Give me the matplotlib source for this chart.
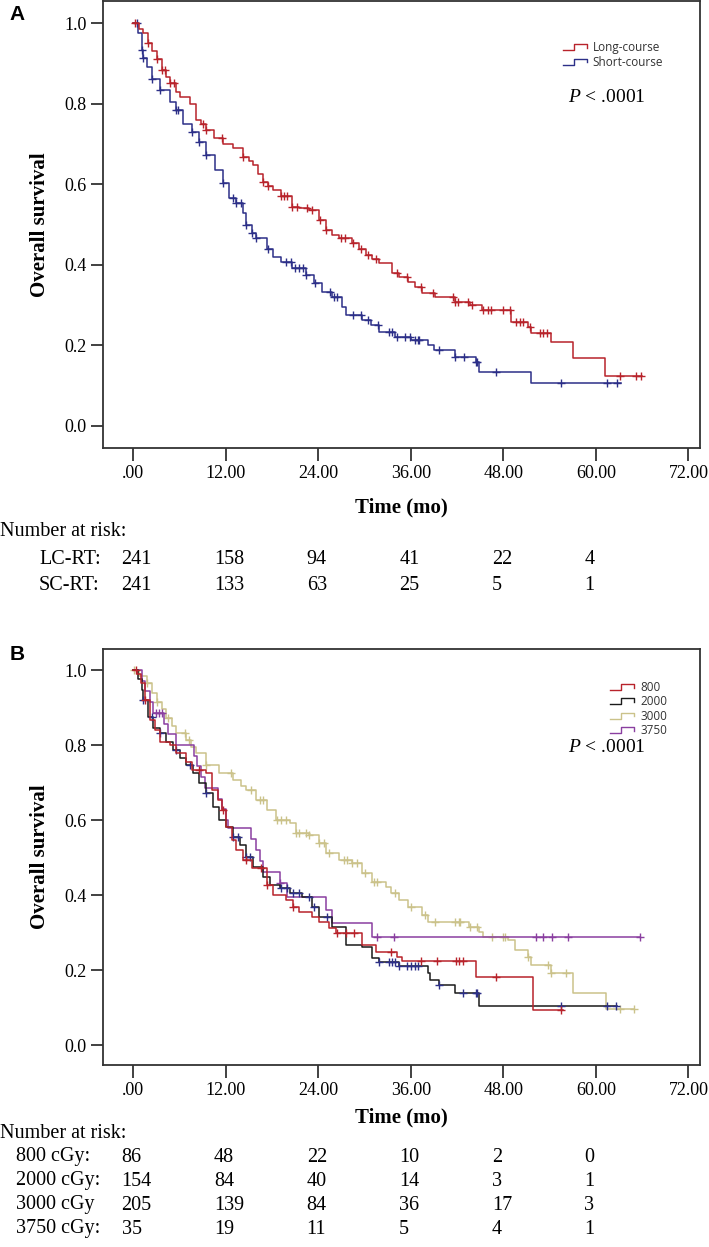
import numpy as np
import matplotlib
matplotlib.use("Agg")
import matplotlib.pyplot as plt
import matplotlib.transforms as mtransforms
from matplotlib.legend_handler import HandlerBase
from matplotlib.lines import Line2D

# ---- panel A: long-course vs short-course ----
lc_times = [0, 0.8, 1.3, 1.9, 2.5, 3.1, 3.7, 4.3, 4.8, 5.5, 6.1, 7.4, 8.2, 8.8, 9.5,
            10.5, 11.6, 12.9, 14.2, 15.0, 15.5, 16.2, 16.8, 17.5, 18.1, 19.2, 20.6,
            21.5, 22.8, 24.1, 25.0, 25.8, 26.7, 28.4, 29.3, 30.2, 31.0, 31.9, 33.6,
            34.5, 35.7, 36.5, 37.4, 39.2, 41.8, 43.7, 45.2, 49.0, 51.2, 51.6, 54.2,
            57.0, 61.2]
lc_surv = [1.0, 0.985, 0.975, 0.95, 0.93, 0.91, 0.883, 0.865, 0.85, 0.83, 0.816, 0.80,
           0.76, 0.75, 0.735, 0.715, 0.70, 0.69, 0.668, 0.658, 0.648, 0.625, 0.606,
           0.595, 0.586, 0.57, 0.543, 0.54, 0.536, 0.511, 0.487, 0.475, 0.466, 0.454,
           0.44, 0.424, 0.414, 0.404, 0.38, 0.37, 0.357, 0.345, 0.33, 0.32, 0.308,
           0.30, 0.288, 0.258, 0.246, 0.23, 0.208, 0.169, 0.124]
lc_end = 66.0
lc_cens = [0.3, 1.9, 3.1, 3.7, 4.2, 4.8, 5.3, 9.0, 9.5, 11.5, 14.2, 16.8, 17.5, 19.2,
           19.6, 20.0, 20.6, 21.2, 22.6, 23.2, 24.2, 25.0, 27.0, 27.5, 28.5, 29.5,
           30.5, 31.5, 34.2, 35.5, 37.3, 38.9, 41.5, 41.8, 42.1, 43.4, 44.0, 45.4,
           46.0, 46.4, 47.9, 48.9, 49.6, 50.1, 50.5, 51.4, 52.7, 53.2, 53.6, 63.1,
           65.2, 65.8]

sc_times = [0, 0.7, 1.1, 1.3, 1.8, 2.4, 3.5, 4.8, 5.6, 6.5, 7.6, 8.6, 9.5, 10.6, 11.6,
            12.5, 13.4, 14.2, 14.7, 15.4, 16.0, 17.3, 18.1, 19.2, 20.6, 22.4, 23.5,
            24.5, 25.8, 27.1, 27.6, 29.7, 30.8, 31.9, 34.0, 36.0, 38.3, 39.0, 41.8,
            44.4, 44.8, 51.6]
sc_surv = [1.0, 0.975, 0.933, 0.913, 0.89, 0.86, 0.834, 0.804, 0.784, 0.75, 0.73, 0.705,
           0.672, 0.635, 0.603, 0.566, 0.553, 0.528, 0.499, 0.479, 0.466, 0.44, 0.419,
           0.407, 0.392, 0.375, 0.355, 0.333, 0.32, 0.295, 0.275, 0.263, 0.25, 0.233,
           0.22, 0.213, 0.20, 0.189, 0.171, 0.159, 0.134, 0.107]
sc_end = 63.2
sc_cens = [0.5, 1.1, 1.3, 2.4, 3.5, 5.6, 5.8, 7.6, 8.6, 9.5, 11.6, 12.9, 13.4, 14.0,
           14.7, 15.4, 16.0, 17.5, 19.8, 20.5, 21.0, 21.5, 22.0, 22.4, 23.6, 25.5,
           26.0, 26.5, 28.5, 29.5, 30.5, 31.8, 33.2, 33.6, 34.2, 35.3, 35.9, 36.5,
           36.9, 37.1, 39.6, 41.8, 42.9, 44.4, 44.6, 47.0, 55.5, 61.5, 62.8]

# ---- panel B: by dose ----
d800_times = [0, 0.5, 1.0, 1.5, 2.2, 2.8, 3.5, 4.8, 5.6, 6.9, 7.6, 9.5, 10.2, 11.0,
              11.5, 12.1, 12.8, 13.4, 14.2, 15.4, 17.3, 18.1, 19.8, 20.7, 21.5, 23.2,
              24.1, 25.4, 26.3, 29.7, 31.5, 34.2, 34.8, 44.4, 51.9]
d800_surv = [1.0, 0.99, 0.965, 0.92, 0.867, 0.84, 0.808, 0.80, 0.778, 0.755, 0.733,
             0.725, 0.68, 0.653, 0.626, 0.581, 0.547, 0.52, 0.493, 0.472, 0.427, 0.40,
             0.387, 0.368, 0.355, 0.341, 0.328, 0.312, 0.299, 0.267, 0.248, 0.235,
             0.224, 0.181, 0.093]
d800_end = 55.7
d800_cens = [0.4, 1.5, 8.6, 11.7, 14.7, 16.6, 17.3, 20.7, 26.5, 27.6, 28.6, 33.4, 37.3,
             39.4, 41.9, 42.2, 42.8, 47.0, 55.5]

d2000_times = [0, 0.6, 1.1, 1.3, 1.9, 2.6, 3.5, 4.3, 5.2, 6.1, 6.9, 7.8, 8.6, 9.5, 10.4,
               11.2, 12.1, 12.9, 13.8, 14.7, 15.5, 16.8, 17.7, 19.0, 20.3, 21.9, 23.2,
               24.1, 25.8, 27.6, 29.7, 31.0, 31.9, 34.5, 38.3, 38.5, 39.6, 41.8, 44.8]
d2000_surv = [1.0, 0.975, 0.947, 0.92, 0.875, 0.845, 0.832, 0.808, 0.787, 0.765, 0.747,
              0.725, 0.699, 0.672, 0.635, 0.60, 0.581, 0.555, 0.533, 0.501, 0.475, 0.448,
              0.427, 0.419, 0.405, 0.395, 0.368, 0.341, 0.315, 0.267, 0.261, 0.232,
              0.221, 0.21, 0.192, 0.173, 0.16, 0.139, 0.104]
d2000_end = 62.8
d2000_cens = [1.3, 2.4, 3.5, 5.6, 7.4, 9.5, 12.9, 13.6, 14.7, 15.1, 19.2, 20.0, 20.7,
              21.5, 22.8, 23.5, 25.2, 31.9, 33.2, 33.6, 34.0, 34.5, 35.5, 36.0, 36.6,
              37.0, 39.6, 42.8, 44.4, 44.6, 55.5, 61.5, 62.6]

d3000_times = [0, 0.8, 1.8, 2.5, 3.1, 3.7, 4.3, 5.0, 5.6, 6.9, 7.5, 8.2, 9.5, 11.2, 12.9,
               14.0, 14.7, 16.0, 17.3, 18.5, 20.3, 21.1, 22.8, 24.1, 25.0, 26.7, 28.4,
               29.7, 31.0, 32.8, 33.4, 34.5, 35.7, 37.4, 38.3, 43.5, 44.8, 45.4, 48.6,
               49.5, 51.2, 51.6, 54.2, 57.0, 61.3]
d3000_surv = [1.0, 0.985, 0.965, 0.94, 0.915, 0.895, 0.872, 0.85, 0.832, 0.813, 0.795,
              0.778, 0.747, 0.725, 0.707, 0.69, 0.68, 0.653, 0.627, 0.60, 0.592, 0.565,
              0.56, 0.539, 0.512, 0.493, 0.485, 0.459, 0.435, 0.421, 0.405, 0.387,
              0.368, 0.347, 0.328, 0.315, 0.302, 0.289, 0.28, 0.253, 0.235, 0.213,
              0.192, 0.139, 0.096]
d3000_end = 65.0
d3000_cens = [0.1, 1.8, 3.1, 4.5, 6.7, 7.3, 9.5, 12.7, 15.3, 16.4, 16.8, 18.7, 19.2,
              19.8, 21.1, 21.5, 22.4, 22.8, 24.1, 24.7, 25.4, 27.3, 27.7, 28.4, 29.0,
              30.1, 31.2, 31.6, 34.0, 36.0, 37.9, 39.2, 41.8, 42.2, 42.4, 43.7, 44.6,
              46.5, 48.0, 48.2, 51.2, 53.8, 54.2, 56.1, 63.1, 65.0]

d3750_times = [0, 1.1, 1.6, 2.2, 2.6, 4.0, 4.5, 5.6, 7.9, 8.3, 8.8, 9.3, 11.0, 11.5,
               12.0, 12.3, 15.3, 16.0, 16.4, 16.8, 19.0, 19.9, 25.0, 25.8, 31.0]
d3750_surv = [1.0, 0.971, 0.943, 0.914, 0.886, 0.857, 0.829, 0.80, 0.771, 0.743, 0.714,
              0.686, 0.657, 0.629, 0.60, 0.58, 0.55, 0.52, 0.49, 0.462, 0.432, 0.395,
              0.36, 0.325, 0.288]
d3750_end = 65.7
d3750_cens = [3.0, 3.4, 3.8, 19.0, 31.6, 33.8, 52.3, 53.1, 54.3, 56.4, 65.7]

# ---- axis / table text ----
xticks = [0, 12, 24, 36, 48, 60, 72]
xtick_labels = ['.00', '12.00', '24.00', '36.00', '48.00', '60.00', '72.00']
yticks = [0.0, 0.2, 0.4, 0.6, 0.8, 1.0]
risk_times = [0, 12, 24, 36, 48, 60]
risk_a_labels = ['LC-RT:', 'SC-RT:']
risk_a = [[241, 158, 94, 41, 22, 4],
          [241, 133, 63, 25, 5, 1]]
risk_b_labels = ['800 cGy:', '2000 cGy:', '3000 cGy', '3750 cGy:']
risk_b = [[86, 48, 22, 10, 2, 0],
          [154, 84, 40, 14, 3, 1],
          [205, 139, 84, 36, 17, 3],
          [35, 19, 11, 5, 4, 1]]

RED = '#b8232b'
NAVY = '#2c2f88'
KHAKI = '#cbc28a'
PURPLE = '#8a3fa0'
BLACK = '#1a1a1a'
SERIF = 'Liberation Serif'

plt.rcParams['mathtext.fontset'] = 'custom'
plt.rcParams['mathtext.it'] = 'Liberation Serif:italic'
plt.rcParams['mathtext.rm'] = 'Liberation Serif'

W, H = 709, 1247


def fx(px):
    return px / W


def fy(py):
    return 1 - py / H


def surv_at(times, surv, t):
    idx = np.searchsorted(times, t, side='right') - 1
    return np.asarray(surv)[np.clip(idx, 0, None)]


def draw_km(ax, times, surv, end, cens, color, cens_color=None):
    t = list(times) + [end]
    s = list(surv) + [surv[-1]]
    ax.step(t, s, where='post', color=color, lw=1.1)
    c = np.asarray(cens)
    ax.plot(c, surv_at(times, surv, c), ls='none', marker='+', ms=5.5, mew=1.0,
            color=cens_color or color)


class StepHandler(HandlerBase):
    # little SPSS style step glyph in the legend
    def create_artists(self, legend, orig_handle, xdescent, ydescent, width, height,
                       fontsize, trans):
        x0, y0 = -xdescent, -ydescent
        xs = [x0, x0 + 0.45 * width, x0 + 0.45 * width, x0 + width, x0 + width]
        ys = [y0 + 0.1 * height, y0 + 0.1 * height, y0 + 0.85 * height,
              y0 + 0.85 * height, y0 + 0.4 * height]
        ln = Line2D(xs, ys, color=orig_handle.get_color(), lw=1.0, transform=trans)
        return [ln]


def style_axes(ax, ylim):
    ax.set_xlim(-3.9, 73.5)
    ax.set_ylim(*ylim)
    ax.set_xticks(xticks)
    ax.set_xticklabels(xtick_labels)
    ax.set_yticks(yticks)
    ax.set_yticklabels([f'{v:.1f}' for v in yticks])
    for sp in ax.spines.values():
        sp.set_color('#333333')
        sp.set_linewidth(1.3)
    ax.tick_params(direction='out', length=9, width=1.3, color='#333333', pad=3,
                   labelsize=13)
    for lbl in ax.get_xticklabels() + ax.get_yticklabels():
        lbl.set_family(SERIF)
    ax.set_ylabel('Overall survival', family=SERIF, fontweight='bold', fontsize=15)
    ax.set_xlabel('Time (mo)', family=SERIF, fontweight='bold', fontsize=15)


def risk_table(ax, fig, title_y, row_ys, labels, rows, label_x):
    tr = mtransforms.blended_transform_factory(ax.transData, fig.transFigure)
    fig.text(0.0, fy(title_y), 'Number at risk:', family=SERIF, fontsize=14.5,
             va='center', ha='left')
    for y, lab, vals in zip(row_ys, labels, rows):
        fig.text(fx(label_x), fy(y), lab, family=SERIF, fontsize=14.5, va='center')
        for t, v in zip(risk_times, vals):
            ax.text(t - 1.5, fy(y), str(v), transform=tr, family=SERIF, fontsize=14.5,
                    va='center', ha='left', clip_on=False)


fig = plt.figure(figsize=(W / 100, H / 100), dpi=100)
axA = fig.add_axes([fx(103), fy(448), fx(700) - fx(103), fy(1) - fy(448)])
axB = fig.add_axes([fx(103), fy(1065), fx(700) - fx(103), fy(649) - fy(1065)])

# panel A
draw_km(axA, sc_times, sc_surv, sc_end, sc_cens, NAVY)
draw_km(axA, lc_times, lc_surv, lc_end, lc_cens, RED)
style_axes(axA, (-0.0546, 1.0546))
axA.xaxis.set_label_coords(0.5, (448 - 507) / 447)
axA.xaxis.label.set_va('center')
axA.yaxis.set_label_coords((40 - 103) / 597, 0.5)
axA.yaxis.label.set_va('center')
hA = [Line2D([], [], color=RED), Line2D([], [], color=NAVY)]
axA.legend(hA, ['Long-course', 'Short-course'], handler_map={Line2D: StepHandler()},
           loc='upper left', bbox_to_anchor=(fx(557), fy(35)),
           bbox_transform=fig.transFigure, frameon=False, borderpad=0,
           handlelength=2.0, handletextpad=0.5, labelspacing=0.15,
           prop={'family': 'Open Sans', 'size': 8.5}, labelcolor='#333333')
fig.text(fx(568), fy(97), r'$P$ < .0001', family=SERIF, fontsize=14, va='center')
risk_table(axA, fig, 532, [560, 585], risk_a_labels, risk_a, 39)

# panel B
draw_km(axB, d3000_times, d3000_surv, d3000_end, d3000_cens, KHAKI)
draw_km(axB, d3750_times, d3750_surv, d3750_end, d3750_cens, PURPLE)
draw_km(axB, d2000_times, d2000_surv, d2000_end, d2000_cens, BLACK, cens_color=NAVY)
draw_km(axB, d800_times, d800_surv, d800_end, d800_cens, RED)
style_axes(axB, (-0.0533, 1.056))
axB.xaxis.set_label_coords(0.5, (1065 - 1117) / 416)
axB.xaxis.label.set_va('center')
axB.yaxis.set_label_coords((40 - 103) / 597, 0.5)
axB.yaxis.label.set_va('center')
hB = [Line2D([], [], color=c) for c in (RED, BLACK, KHAKI, PURPLE)]
axB.legend(hB, ['800', '2000', '3000', '3750'], handler_map={Line2D: StepHandler()},
           loc='upper left', bbox_to_anchor=(fx(604), fy(675)),
           bbox_transform=fig.transFigure, frameon=False, borderpad=0,
           handlelength=2.0, handletextpad=0.6, labelspacing=0.12,
           prop={'family': 'Open Sans', 'size': 8.5}, labelcolor='#333333')
fig.text(fx(568), fy(747), r'$P$ < .0001', family=SERIF, fontsize=14, va='center')
risk_table(axB, fig, 1133, [1157, 1181, 1205, 1229], risk_b_labels, risk_b, 16)

fig.text(fx(17), fy(14), 'A', family='Liberation Sans', fontweight='bold', fontsize=15,
         ha='center', va='center')
fig.text(fx(17), fy(655), 'B', family='Liberation Sans', fontweight='bold', fontsize=15,
         ha='center', va='center')

fig.savefig('out.png', dpi=100)
